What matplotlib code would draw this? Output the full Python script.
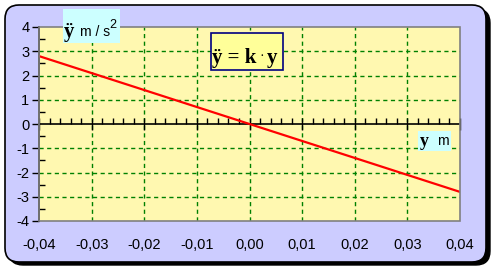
import matplotlib
matplotlib.use("Agg")
import matplotlib.pyplot as plt
from matplotlib.patches import FancyBboxPatch, Rectangle
from matplotlib.ticker import MultipleLocator

# data
y_pos = [-0.04, 0.04]          # m
y_acc = [2.8, -2.8]            # m/s^2
xticks = [-0.04, -0.03, -0.02, -0.01, 0.0, 0.01, 0.02, 0.03, 0.04]
xlabels = ["-0,04", "-0,03", "-0,02", "-0,01", "0,00", "0,01", "0,02", "0,03", "0,04"]
yticks = [-4, -3, -2, -1, 0, 1, 2, 3, 4]

C_FRAME = "#ccccff"
C_PLOT = "#fff8b0"
C_GRID = "#008000"
C_CYAN = "#ccffff"

W, H = 494, 271
fig = plt.figure(figsize=(W / 100, H / 100), dpi=100)
fig.patch.set_facecolor("white")

# background frame in pixel coords
bg = fig.add_axes([0, 0, 1, 1], zorder=0)
bg.set_xlim(0, W)
bg.set_ylim(H, 0)
bg.axis("off")
bg.add_patch(FancyBboxPatch((9, 9), 481, 256, boxstyle="round,pad=0,rounding_size=14",
                            fc="black", ec="black", lw=1))
bg.add_patch(FancyBboxPatch((5, 5), 481, 257, boxstyle="round,pad=0,rounding_size=14",
                            fc=C_FRAME, ec="black", lw=1.2))

# main plot
ax = fig.add_axes([39 / W, (H - 221) / H, 421 / W, 194 / H], zorder=1)
ax.set_facecolor(C_PLOT)
ax.set_xlim(-0.04, 0.04)
ax.set_ylim(-4, 4)

for xv in xticks[1:-1]:
    ax.axvline(xv, color=C_GRID, lw=1, ls=(0, (3, 2.5)), zorder=1)
for yv in yticks[1:-1]:
    if yv != 0:
        ax.axhline(yv, color=C_GRID, lw=1, ls=(0, (3, 2.5)), zorder=1)

ax.plot(y_pos, y_acc, color="red", lw=1.6, zorder=3)

# x axis through zero
ax.spines["bottom"].set_position(("data", 0))
ax.spines["bottom"].set_color("black")
ax.spines["bottom"].set_linewidth(1.2)
ax.spines["left"].set_linewidth(1.2)
ax.spines["top"].set_visible(False)
ax.spines["right"].set_visible(False)
ax.set_xticks(xticks)
ax.xaxis.set_minor_locator(MultipleLocator(0.002))
ax.tick_params(axis="x", which="major", direction="inout", length=8, width=1,
               labelbottom=False)
ax.tick_params(axis="x", which="minor", direction="in", length=4, width=1)
ax.set_yticks(yticks)
ax.yaxis.set_minor_locator(MultipleLocator(0.5))
ax.tick_params(axis="y", which="major", direction="out", length=5, width=1,
               labelsize=10.5, pad=2)
ax.tick_params(axis="y", which="minor", direction="in", length=4, width=1)
ax.set_yticklabels([str(v) for v in yticks], fontfamily="Liberation Sans")

# grey border of plot area
ax.add_patch(Rectangle((0, 0), 1, 1, transform=ax.transAxes, fill=False,
                       ec="#808080", lw=1.2, zorder=4, clip_on=False))

# x tick labels at bottom
sec = ax.secondary_xaxis(0.0)
sec.set_xticks(xticks)
sec.set_xticklabels(xlabels, fontfamily="Liberation Sans")
sec.tick_params(length=0, labelsize=10.5, pad=12)
sec.spines["bottom"].set_visible(False)

# overlay labels in pixel coords
ov = fig.add_axes([0, 0, 1, 1], zorder=5)
ov.set_xlim(0, W)
ov.set_ylim(H, 0)
ov.axis("off")
ov.patch.set_alpha(0)

ov.add_patch(Rectangle((63, 9), 57, 34, fc=C_CYAN, ec="none"))
ov.text(64, 37, "\u00ff", fontsize=15, fontweight="bold", fontfamily="Liberation Serif",
        ha="left", va="baseline")
ov.text(80, 36, "m / s", fontsize=10, fontfamily="Liberation Sans", ha="left", va="baseline")
ov.text(109, 28, "2", fontsize=9, fontfamily="Liberation Sans", ha="left", va="baseline")

ov.add_patch(Rectangle((211, 33), 72, 37, fc="#ffff99", ec="#000080", lw=1.2))
ov.text(212, 63, "\u00ff = k", fontsize=15, fontweight="bold",
        fontfamily="Liberation Serif", ha="left", va="baseline")
ov.text(259, 60, "\u00b7", fontsize=10, fontfamily="Liberation Serif", ha="left",
        va="baseline")
ov.text(267, 63, "y", fontsize=15, fontweight="bold",
        fontfamily="Liberation Serif", ha="left", va="baseline")

ov.add_patch(Rectangle((418, 131), 33, 20, fc=C_CYAN, ec="none"))
ov.text(420, 146, "y", fontsize=13, fontweight="bold", fontfamily="Liberation Serif",
        ha="left", va="baseline")
ov.text(437, 145, "m", fontsize=10, fontfamily="Liberation Sans", ha="left", va="baseline")

fig.savefig("out.png", dpi=100)
